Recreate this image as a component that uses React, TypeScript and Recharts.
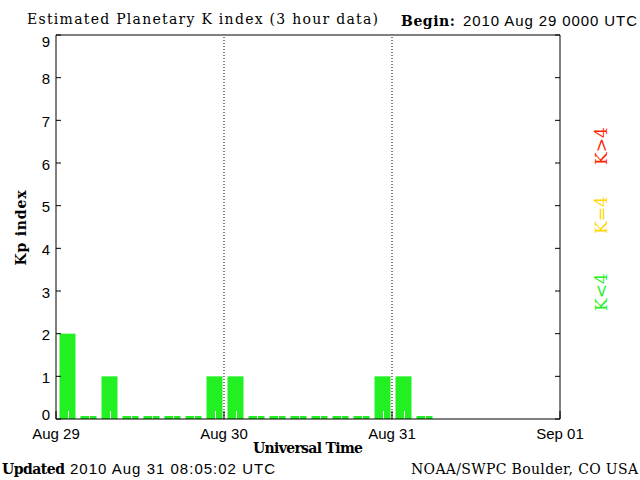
import React from 'react';
import { BarChart, Bar, XAxis, YAxis, ReferenceLine } from 'recharts';

// 3-hour slots (start hour since 2010 Aug 29 00 UTC)
const slotHours = [
  0, 3, 6, 9, 12, 15, 18, 21,
  24, 27, 30, 33, 36, 39, 42, 45,
  48, 51, 54, 57, 60, 63, 66, 69,
];
const kpValues: (number | null)[] = [
  2, 0, 1, 0, 0, 0, 0, 1,
  1, 0, 0, 0, 0, 0, 0, 1,
  1, 0, null, null, null, null, null, null,
];
const dayTicks = [0, 24, 48, 72];
const dayLabels = ['Aug 29', 'Aug 30', 'Aug 31', 'Sep 01'];
const yTicks = [0, 1, 2, 3, 4, 5, 6, 7, 8, 9];
const dayLines = [24, 48];

const data = slotHours.map((hour, i) => ({ hour, kp: kpValues[i] }));

const GREEN = '#22F022';
const YELLOW = '#FFD700';
const RED = '#FF2200';
const SERIF = '"DejaVu Serif", serif';
const SANS = '"Liberation Sans", Arial, sans-serif';

const BarShape = (props: any) => {
  const { x, y, width, height, fill, payload } = props;
  if (!payload || payload.kp == null) return <g />;
  const bx = x + 12; // bars sit in the later part of each 3-hour slot
  const cx = Math.round(bx + width / 2) + 0.5;
  const bottom = y + height;
  return (
    <g>
      <rect x={bx} y={y} width={width} height={height} fill={fill} />
      <line x1={cx} x2={cx} y1={bottom - 8} y2={bottom} stroke="#ffffff" strokeWidth={1} />
    </g>
  );
};

const YTick = (props: any) => {
  const { x, y, payload } = props;
  const v = payload.value;
  const dy = v === 9 ? 6 : v === 0 ? -5 : 1;
  return (
    <text
      x={x}
      y={y + dy}
      textAnchor="end"
      dominantBaseline="central"
      fontFamily={SANS}
      fontSize={15}
      fill="#000"
    >
      {v}
    </text>
  );
};

export default function App() {
  return (
    <div style={{ position: 'absolute', left: 0, top: 0, width: 640, height: 480, background: '#fff' }}>
      <BarChart
        width={640}
        height={480}
        data={data}
        margin={{ top: 34, right: 79, bottom: 21, left: 16 }}
      >
        <XAxis
          dataKey="hour"
          type="number"
          domain={[0, 72]}
          ticks={dayTicks}
          interval={0}
          allowDataOverflow
          tickFormatter={(v: number) => dayLabels[dayTicks.indexOf(v)] ?? ''}
          tickSize={-8}
          tickMargin={17}
          height={40}
          axisLine={{ stroke: '#000' }}
          tickLine={{ stroke: '#000' }}
          tick={{ fill: '#000', fontSize: 15, fontFamily: SANS }}
        />
        <XAxis
          xAxisId="top"
          dataKey="hour"
          orientation="top"
          type="number"
          domain={[0, 72]}
          allowDataOverflow
          height={1}
          tick={false}
          tickLine={false}
          axisLine={{ stroke: '#000' }}
        />
        <YAxis
          domain={[0, 9]}
          ticks={yTicks}
          interval={0}
          allowDataOverflow
          width={40}
          tickSize={-5}
          tickMargin={11}
          axisLine={{ stroke: '#000' }}
          tickLine={{ stroke: '#000' }}
          tick={<YTick />}
        />
        <YAxis
          yAxisId="right"
          dataKey="kp"
          orientation="right"
          type="number"
          domain={[0, 9]}
          ticks={yTicks}
          interval={0}
          allowDataOverflow
          width={1}
          tickSize={-5}
          tickFormatter={() => ''}
          axisLine={{ stroke: '#000' }}
          tickLine={{ stroke: '#000' }}
        />
        {dayLines.map((d) => (
          <ReferenceLine key={d} x={d} stroke="#000" strokeDasharray="1 2" />
        ))}
        <Bar
          dataKey="kp"
          fill={GREEN}
          barSize={16}
          minPointSize={(v: any) => (v == null ? 0 : 3)}
          shape={<BarShape />}
          isAnimationActive={false}
        />
      </BarChart>
      <svg
        width={640}
        height={480}
        style={{ position: 'absolute', left: 0, top: 0, pointerEvents: 'none' }}
      >
        <text x={27} y={24} fontFamily={SERIF} fontSize={14} textLength={351} fill="#000">
          Estimated Planetary K index (3 hour data)
        </text>
        <text x={401} y={26} fontFamily={SERIF} fontWeight="bold" fontSize={14} textLength={54} fill="#000">
          Begin:
        </text>
        <text x={463} y={26} fontFamily={SANS} fontSize={15} textLength={174} fill="#000">
          2010 Aug 29 0000 UTC
        </text>
        <text
          x={26}
          y={228}
          transform="rotate(-90 26 228)"
          textAnchor="middle"
          fontFamily={SERIF}
          fontWeight="bold"
          fontSize={14}
          textLength={75}
          fill="#000"
        >
          Kp index
        </text>
        <text x={308} y={453} textAnchor="middle" fontFamily={SERIF} fontWeight="bold" fontSize={14} textLength={110} fill="#000">
          Universal Time
        </text>
        <text x={2} y={474} fontFamily={SERIF} fontWeight="bold" fontSize={14} textLength={63} fill="#000">
          Updated
        </text>
        <text x={70} y={474} fontFamily={SANS} fontSize={15} textLength={205} fill="#000">
          2010 Aug 31 08:05:02 UTC
        </text>
        <text x={411} y={474} fontFamily={SERIF} fontSize={14} textLength={227} fill="#000">
          NOAA/SWPC Boulder, CO USA
        </text>
        <text x={607} y={146} transform="rotate(-90 607 146)" textAnchor="middle" fontFamily={SERIF} fontSize={17} fill={RED}>
          {'K>4'}
        </text>
        <text x={607} y={215} transform="rotate(-90 607 215)" textAnchor="middle" fontFamily={SERIF} fontSize={17} fill={YELLOW}>
          {'K=4'}
        </text>
        <text x={607} y={292} transform="rotate(-90 607 292)" textAnchor="middle" fontFamily={SERIF} fontSize={17} fill={GREEN}>
          {'K<4'}
        </text>
      </svg>
    </div>
  );
}
